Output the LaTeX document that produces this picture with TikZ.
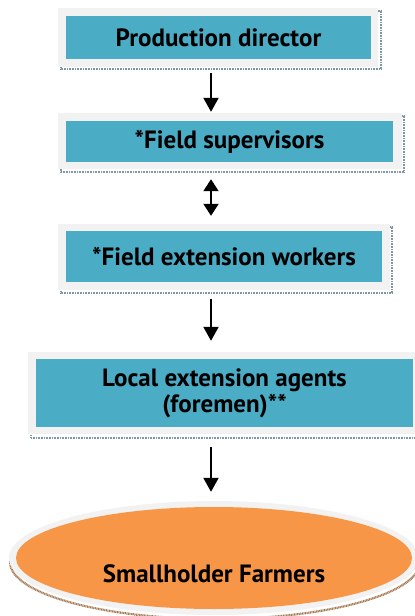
\documentclass[tikz,border=0pt]{standalone}
\usepackage{fontspec}
\setmainfont{PT Sans}
\usetikzlibrary{arrows.meta,shapes.geometric}
\definecolor{teal}{HTML}{4BACC6}
\definecolor{framegray}{HTML}{F2F2F2}
\definecolor{orng}{HTML}{F79646}
\definecolor{shadowblue}{HTML}{7E97A2}
\definecolor{shadowbrown}{HTML}{A87A52}
\tikzset{
  txt/.style={font=\fontsize{25}{26}\selectfont\bfseries},
  inner/.style={rectangle, fill=teal, inner sep=0pt, align=center, txt},
  frame/.style={fill=framegray},
  shad/.style={draw=shadowblue, line width=2.2pt, dash pattern=on 1pt off 0.6pt},
  arr/.style={line width=2pt, -{Triangle[length=14pt,width=15pt]}},
  darr/.style={line width=2pt, {Triangle[length=12pt,width=15pt]}-{Triangle[length=12pt,width=15pt]}},
}
\begin{document}
\begin{tikzpicture}[x=1pt,y=-1pt]
\useasboundingbox (0,0) rectangle (415,616);
\fill[white] (0,0) rectangle (415,616);
% axis for arrows
\coordinate (ax) at (211,0);
% box 1
\draw[shad] (61,11) rectangle (381,69);
\fill[frame] (58,8) rectangle (378,67);
\node[inner, minimum width=305pt, minimum height=43pt] (b1) at (218.5,37.5) {Production director};
% box 2
\draw[shad] (61,116) rectangle (404,172);
\fill[frame] (58,113) rectangle (402,169);
\node[inner, minimum width=327pt, minimum height=41pt] (b2) at (229.5,141.5) {*Field supervisors};
% box 3
\draw[shad] (61,227) rectangle (392,293);
\fill[frame] (58,224) rectangle (390,290);
\node[inner, minimum width=316pt, minimum height=51pt] (b3) at (224,256.5) {*Field extension workers};
% box 4
\draw[shad] (31,355) rectangle (420,438);
\fill[frame] (28,352) rectangle (418,434);
\node[inner, minimum width=377pt, minimum height=68pt] (b4) at (224.5,393) {Local extension agents\\(foremen)**};
% ellipse
\draw[draw=shadowbrown, line width=2.2pt, dash pattern=on 1pt off 0.6pt] (215,562) ellipse [x radius=205, y radius=57];
\fill[framegray] (214,558) ellipse [x radius=205, y radius=57];
\node[ellipse, fill=orng, minimum width=396pt, minimum height=102pt, inner sep=0pt,
  label={[anchor=center, yshift=-16pt, txt]center:Smallholder Farmers}] (farm) at (214,558) {};
% arrows
\draw[arr, shorten <=14pt, shorten >=9pt] (b1.south -| ax) -- (b2.north -| ax);
\draw[darr, shorten <=17pt, shorten >=15pt] (b2.south -| ax) -- (b3.north -| ax);
\draw[arr, shorten <=17pt, shorten >=18pt] (b3.south -| ax) -- (b4.north -| ax);
\draw[arr, shorten <=20pt, shorten >=15pt] (b4.south -| ax) -- (farm.north -| ax);
\end{tikzpicture}
\end{document}
